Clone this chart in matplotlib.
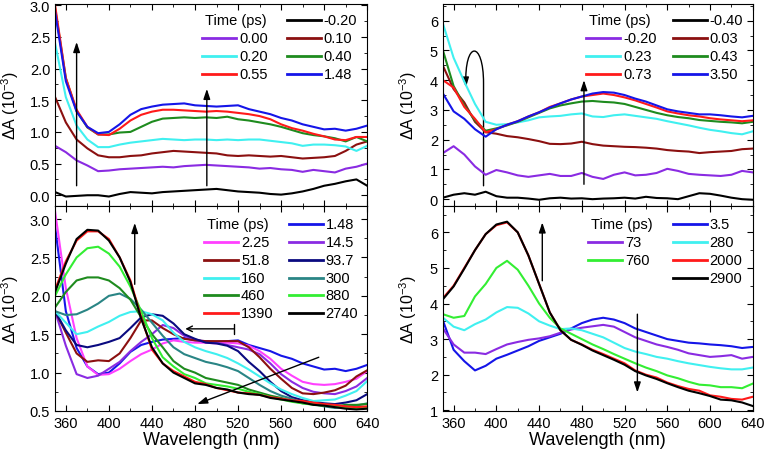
import matplotlib
matplotlib.use('Agg')
import matplotlib.pyplot as plt
from matplotlib.ticker import MultipleLocator
from matplotlib.patches import FancyArrowPatch
from matplotlib.path import Path
import numpy as np

plt.rcParams['font.family'] = ['Liberation Sans', 'DejaVu Sans']
plt.rcParams['mathtext.fontset'] = 'custom'
plt.rcParams['mathtext.rm'] = 'Liberation Sans'

# %% Data (10 nm grid)
wl = np.arange(350, 641, 10)

# top left: early times
tl_labels = ['-0.20', '0.00', '0.10', '0.20', '0.40', '0.55', '1.48']
tl_m020 = [0.05, -0.02, -0.01, 0.0, 0.0, -0.02, 0.02, 0.05, 0.04, 0.03, 0.05, 0.06, 0.07, 0.08, 0.09,
           0.1, 0.08, 0.06, 0.05, 0.04, 0.02, 0.01, 0.03, 0.06, 0.1, 0.15, 0.18, 0.22, 0.25, 0.15]
tl_000 = [0.78, 0.68, 0.55, 0.47, 0.38, 0.39, 0.41, 0.42, 0.43, 0.44, 0.45, 0.44, 0.46, 0.47, 0.48,
          0.47, 0.46, 0.45, 0.44, 0.42, 0.43, 0.41, 0.40, 0.37, 0.40, 0.38, 0.36, 0.42, 0.45, 0.5]
tl_010 = [1.55, 1.15, 0.88, 0.74, 0.63, 0.60, 0.60, 0.62, 0.63, 0.66, 0.68, 0.70, 0.69, 0.68, 0.67,
          0.66, 0.63, 0.62, 0.63, 0.62, 0.61, 0.62, 0.60, 0.58, 0.59, 0.60, 0.62, 0.70, 0.80, 0.85]
tl_020 = [2.4, 1.55, 1.1, 0.88, 0.76, 0.76, 0.80, 0.83, 0.85, 0.87, 0.89, 0.88, 0.87, 0.88, 0.88,
          0.87, 0.88, 0.87, 0.88, 0.88, 0.86, 0.84, 0.82, 0.78, 0.80, 0.80, 0.79, 0.77, 0.70, 0.78]
tl_040 = [2.95, 1.85, 1.33, 1.07, 0.96, 0.96, 0.99, 1.0, 1.08, 1.16, 1.21, 1.22, 1.23, 1.22, 1.23,
          1.22, 1.24, 1.2, 1.18, 1.15, 1.12, 1.08, 1.03, 0.98, 0.95, 0.93, 0.9, 0.85, 0.92, 0.85]
tl_055 = [3.0, 1.85, 1.35, 1.08, 0.96, 0.95, 1.05, 1.18, 1.27, 1.32, 1.35, 1.35, 1.34, 1.33, 1.32,
          1.33, 1.32, 1.3, 1.28, 1.25, 1.2, 1.12, 1.06, 1.02, 0.97, 0.93, 0.88, 0.87, 0.92, 0.92]
tl_148 = [2.9, 1.8, 1.32, 1.08, 0.98, 1.0, 1.12, 1.27, 1.36, 1.40, 1.43, 1.44, 1.45, 1.42, 1.41,
          1.4, 1.41, 1.42, 1.36, 1.32, 1.28, 1.22, 1.18, 1.12, 1.08, 1.04, 1.05, 1.02, 1.05, 1.1]

# bottom left: later times
bl_labels = ['1.48', '2.25', '14.5', '51.8', '93.7', '160', '300', '460', '880', '1390', '2740']
bl_225 = [3.1, 2.1, 1.45, 1.08, 0.97, 0.98, 1.05, 1.15, 1.24, 1.30, 1.38, 1.42, 1.40, 1.39, 1.39,
          1.38, 1.39, 1.38, 1.35, 1.28, 1.18, 1.05, 0.96, 0.88, 0.85, 0.84, 0.85, 0.88, 0.92, 1.02]
bl_145 = [1.8, 1.35, 0.98, 0.93, 0.96, 1.05, 1.14, 1.28, 1.40, 1.50, 1.62, 1.58, 1.48, 1.43, 1.40,
          1.39, 1.36, 1.33, 1.30, 1.24, 1.12, 0.98, 0.88, 0.80, 0.75, 0.73, 0.72, 0.76, 0.82, 0.93]
bl_518 = [1.8, 1.52, 1.25, 1.14, 1.16, 1.15, 1.25, 1.45, 1.68, 1.68, 1.58, 1.5, 1.44, 1.42, 1.41,
          1.41, 1.41, 1.41, 1.33, 1.2, 1.05, 0.92, 0.8, 0.73, 0.72, 0.74, 0.77, 0.83, 0.95, 1.03]
bl_937 = [1.8, 1.55, 1.36, 1.33, 1.36, 1.40, 1.45, 1.58, 1.72, 1.76, 1.74, 1.64, 1.50, 1.44, 1.39,
          1.38, 1.35, 1.28, 1.14, 1.02, 0.88, 0.76, 0.68, 0.64, 0.62, 0.60, 0.59, 0.61, 0.64, 0.72]
bl_160 = [1.8, 1.65, 1.5, 1.53, 1.6, 1.66, 1.74, 1.79, 1.80, 1.76, 1.68, 1.52, 1.40, 1.33, 1.28,
          1.24, 1.19, 1.12, 1.04, 0.95, 0.86, 0.78, 0.72, 0.67, 0.63, 0.64, 0.65, 0.7, 0.76, 0.89]
bl_300 = [1.8, 1.75, 1.76, 1.82, 1.9, 2.0, 2.03, 1.96, 1.82, 1.65, 1.48, 1.33, 1.24, 1.19, 1.14,
          1.11, 1.07, 1.02, 0.93, 0.84, 0.76, 0.7, 0.66, 0.61, 0.59, 0.56, 0.54, 0.55, 0.57, 0.6]
bl_460 = [1.85, 2.05, 2.2, 2.24, 2.24, 2.2, 2.1, 1.95, 1.72, 1.5, 1.33, 1.15, 1.05, 1.0, 0.93,
          0.9, 0.87, 0.84, 0.78, 0.74, 0.7, 0.67, 0.63, 0.6, 0.59, 0.57, 0.56, 0.58, 0.58, 0.59]
bl_880 = [2.0, 2.28, 2.5, 2.62, 2.64, 2.55, 2.38, 2.12, 1.8, 1.45, 1.2, 1.08, 0.98, 0.93, 0.86,
          0.84, 0.82, 0.79, 0.75, 0.72, 0.68, 0.65, 0.62, 0.6, 0.58, 0.57, 0.56, 0.54, 0.53, 0.54]
bl_1390 = [2.08, 2.45, 2.72, 2.84, 2.84, 2.74, 2.5, 2.2, 1.72, 1.3, 1.12, 1.02, 0.95, 0.88, 0.85,
           0.8, 0.77, 0.74, 0.73, 0.71, 0.68, 0.66, 0.64, 0.63, 0.61, 0.59, 0.58, 0.56, 0.55, 0.56]
bl_2740 = [2.05, 2.42, 2.74, 2.86, 2.85, 2.72, 2.5, 2.18, 1.7, 1.33, 1.12, 1.0, 0.93, 0.86, 0.84,
           0.8, 0.78, 0.74, 0.72, 0.71, 0.67, 0.65, 0.63, 0.61, 0.58, 0.57, 0.55, 0.53, 0.52, 0.53]

# top right: early times
tr_labels = ['-0.40', '-0.20', '0.03', '0.23', '0.43', '0.73', '3.50']
tr_m040 = [0.05, 0.15, 0.2, 0.15, 0.25, 0.1, 0.05, 0.05, 0.02, -0.02, 0.03, 0.05, 0.02, 0.03, 0.0,
           0.02, 0.03, 0.05, 0.02, 0.08, 0.04, 0.03, 0.0, 0.1, 0.2, 0.18, 0.12, 0.05, 0.0, -0.02]
tr_m020 = [1.55, 1.78, 1.5, 1.1, 0.82, 0.98, 0.9, 0.8, 0.75, 0.8, 0.85, 0.78, 0.78, 0.88, 0.75,
           0.68, 0.82, 0.9, 0.8, 0.82, 0.88, 1.02, 0.95, 0.85, 0.82, 0.8, 0.78, 0.82, 0.95, 0.9]
tr_003 = [4.48, 3.7, 3.25, 2.6, 2.25, 2.2, 2.12, 2.08, 2.02, 1.95, 1.86, 1.85, 1.87, 1.93, 1.85,
          1.8, 1.78, 1.76, 1.75, 1.73, 1.7, 1.65, 1.62, 1.6, 1.55, 1.58, 1.6, 1.62, 1.68, 1.7]
tr_023 = [5.9, 4.75, 3.95, 3.2, 2.6, 2.5, 2.52, 2.58, 2.65, 2.75, 2.78, 2.8, 2.85, 2.88, 2.78,
          2.76, 2.82, 2.85, 2.8, 2.75, 2.7, 2.62, 2.55, 2.48, 2.4, 2.33, 2.28, 2.22, 2.18, 2.28]
tr_043 = [5.0, 3.8, 3.15, 2.65, 2.3, 2.38, 2.48, 2.6, 2.75, 2.9, 3.05, 3.15, 3.22, 3.28, 3.3,
          3.27, 3.25, 3.2, 3.1, 3.0, 2.9, 2.82, 2.76, 2.72, 2.66, 2.63, 2.6, 2.58, 2.55, 2.6]
tr_073 = [4.0, 3.75, 3.1, 2.7, 2.25, 2.35, 2.5, 2.62, 2.78, 2.92, 3.1, 3.22, 3.35, 3.45, 3.5,
          3.55, 3.5, 3.42, 3.32, 3.2, 3.08, 2.95, 2.88, 2.82, 2.78, 2.72, 2.68, 2.65, 2.62, 2.65]
tr_350 = [3.55, 2.95, 2.7, 2.35, 2.1, 2.35, 2.5, 2.62, 2.78, 2.92, 3.08, 3.22, 3.35, 3.45, 3.55,
          3.6, 3.58, 3.5, 3.38, 3.28, 3.15, 3.02, 2.95, 2.9, 2.85, 2.85, 2.82, 2.78, 2.75, 2.8]

# bottom right: later times
br_labels = ['3.5', '73', '280', '760', '2000', '2900']
br_35 = [3.52, 2.7, 2.38, 2.12, 2.25, 2.45, 2.56, 2.68, 2.8, 2.95, 3.05, 3.15, 3.3, 3.45, 3.55,
         3.6, 3.55, 3.45, 3.3, 3.2, 3.1, 3.0, 2.95, 2.9, 2.88, 2.85, 2.83, 2.8, 2.75, 2.78]
br_73 = [3.3, 2.85, 2.62, 2.62, 2.58, 2.72, 2.85, 2.92, 2.98, 3.02, 3.08, 3.18, 3.27, 3.32, 3.36,
         3.4, 3.35, 3.2, 3.05, 2.95, 2.85, 2.78, 2.7, 2.6, 2.55, 2.5, 2.52, 2.55, 2.45, 2.5]
br_280 = [3.6, 3.35, 3.25, 3.42, 3.55, 3.75, 3.9, 3.88, 3.72, 3.5, 3.38, 3.28, 3.3, 3.25, 3.15,
          3.05, 2.9, 2.75, 2.65, 2.58, 2.5, 2.45, 2.38, 2.32, 2.27, 2.22, 2.18, 2.15, 2.15, 2.2]
br_760 = [3.7, 3.6, 3.65, 4.2, 4.55, 5.0, 5.2, 4.95, 4.5, 4.0, 3.6, 3.3, 3.15, 3.0, 2.85,
          2.72, 2.58, 2.45, 2.32, 2.2, 2.1, 1.98, 1.9, 1.8, 1.72, 1.7, 1.65, 1.65, 1.62, 1.75]
br_2000 = [4.15, 4.5, 5.0, 5.5, 5.95, 6.2, 6.28, 6.0, 5.35, 4.55, 3.75, 3.25, 2.98, 2.85, 2.7,
           2.58, 2.45, 2.32, 2.12, 2.0, 1.92, 1.78, 1.68, 1.6, 1.55, 1.42, 1.38, 1.32, 1.3, 1.38]
br_2900 = [4.12, 4.48, 4.98, 5.5, 5.95, 6.22, 6.3, 6.0, 5.35, 4.55, 3.75, 3.25, 2.98, 2.84, 2.68,
           2.55, 2.42, 2.28, 2.1, 1.98, 1.88, 1.76, 1.65, 1.55, 1.48, 1.4, 1.3, 1.28, 1.22, 1.12]

# %% Colours
purple = '#8A2BE2'
cyan = '#40F0F0'
red = '#FF1A1A'
brown = '#8B1010'
green = '#1E8B1E'
blue = '#1515E8'
magenta = '#FF40FF'
navy = '#0A0A80'
teal = '#2A8585'
lime = '#33EE33'

tl_series = [tl_m020, tl_000, tl_010, tl_020, tl_040, tl_055, tl_148]
tl_colors = ['k', purple, brown, cyan, green, red, blue]
bl_series = [tl_148, bl_225, bl_145, bl_518, bl_937, bl_160, bl_300, bl_460, bl_880, bl_1390, bl_2740]
bl_colors = [blue, magenta, purple, brown, navy, cyan, teal, green, lime, red, 'k']
tr_series = [tr_m040, tr_m020, tr_003, tr_023, tr_043, tr_073, tr_350]
tr_colors = ['k', purple, brown, cyan, green, red, blue]
br_series = [br_35, br_73, br_280, br_760, br_2000, br_2900]
br_colors = [blue, purple, cyan, lime, red, 'k']


def draw_legend(ax, col1, col2, x1, x2, y0, dy):
    # header + col1 entries on the left, col2 entries on the right
    ax.text(x1 + 0.01, y0, 'Time (ps)', transform=ax.transAxes, va='center', fontsize=10.5)
    for i, (lab, c) in enumerate(col1):
        y = y0 - (i + 1) * dy
        ax.plot([x1, x1 + 0.11], [y, y], transform=ax.transAxes, color=c, lw=2)
        ax.text(x1 + 0.12, y, lab, transform=ax.transAxes, va='center', fontsize=10.5)
    for i, (lab, c) in enumerate(col2):
        y = y0 - i * dy
        ax.plot([x2, x2 + 0.11], [y, y], transform=ax.transAxes, color=c, lw=2)
        ax.text(x2 + 0.117, y, lab, transform=ax.transAxes, va='center', fontsize=10.5)


def style(ax, ymajor, show_x):
    ax.set_xlim(350, 640)
    ax.xaxis.set_major_locator(MultipleLocator(40))
    ax.xaxis.set_minor_locator(MultipleLocator(20))
    ax.yaxis.set_major_locator(MultipleLocator(ymajor))
    ax.yaxis.set_minor_locator(MultipleLocator(ymajor / 2))
    ax.tick_params(which='both', direction='in', top=True, right=True, labelsize=10.5)
    ax.tick_params(which='major', length=4.5)
    ax.tick_params(which='minor', length=2.5)
    ax.tick_params(axis='x', labelbottom=show_x)
    ax.set_ylabel('ΔA (10$^{-3}$)', fontsize=11.5)
    if show_x:
        ax.set_xlabel('Wavelength (nm)', fontsize=13, labelpad=1)


# %% Figure
fig = plt.figure(figsize=(7.65, 4.52), dpi=100)
ax = [fig.add_axes([0.072, 0.542, 0.408, 0.447]),
      fig.add_axes([0.072, 0.0885, 0.408, 0.4535]),
      fig.add_axes([0.579, 0.542, 0.405, 0.447]),
      fig.add_axes([0.579, 0.0885, 0.405, 0.4535])]

arw = dict(arrowstyle='-|>,head_length=0.6,head_width=0.2', color='k', lw=1, shrinkA=0, shrinkB=0)

# top left
for s, c in zip(tl_series, tl_colors):
    ax[0].plot(wl, s, color=c, lw=1.5)
ax[0].set_ylim(-0.17, 3.02)
style(ax[0], 0.5, False)
ax[0].annotate('', xy=(370, 2.42), xytext=(370, 0.15), arrowprops=arw)
ax[0].annotate('', xy=(491, 1.68), xytext=(491, 0.15), arrowprops=arw)
draw_legend(ax[0], list(zip(tl_labels[1::2], tl_colors[1::2]))[:3],
            [(tl_labels[0], tl_colors[0]), (tl_labels[2], tl_colors[2]),
             (tl_labels[4], tl_colors[4]), (tl_labels[6], tl_colors[6])],
            0.47, 0.743, 0.922, 0.09)
ax[0].yaxis.set_label_coords(-0.11, 0.5)

# bottom left
for s, c in zip(bl_series, bl_colors):
    ax[1].plot(wl, s, color=c, lw=1.5)
ax[1].set_ylim(0.5, 3.17)
style(ax[1], 0.5, True)
ax[1].annotate('', xy=(424, 2.95), xytext=(424, 2.15), arrowprops=arw)
ax[1].annotate('', xy=(471, 1.57), xytext=(516, 1.57),
               arrowprops=dict(arrowstyle=']->,widthA=0.35,lengthA=0',
                               color='k', lw=1, shrinkA=0, shrinkB=0))
ax[1].annotate('', xy=(482, 0.59), xytext=(595, 1.2), arrowprops=arw)
draw_legend(ax[1], [(bl_labels[i], bl_colors[i]) for i in (1, 3, 5, 7, 9)],
            [(bl_labels[i], bl_colors[i]) for i in (0, 2, 4, 6, 8, 10)],
            0.476, 0.749, 0.912, 0.087)
ax[1].yaxis.set_label_coords(-0.11, 0.5)

# top right
for s, c in zip(tr_series, tr_colors):
    ax[2].plot(wl, s, color=c, lw=1.5)
ax[2].set_ylim(-0.23, 6.56)
style(ax[2], 1, False)
ax[2].annotate('', xy=(482, 4.0), xytext=(482, 0.5), arrowprops=arw)
# looped arrow: up from 388 nm, over the top and down to 372 nm
loop = Path([(388, 0.45), (388, 3.9), (388, 5.35), (370, 5.35), (371.5, 3.75)],
            [Path.MOVETO, Path.LINETO, Path.CURVE4, Path.CURVE4, Path.CURVE4])
ax[2].add_patch(FancyArrowPatch(path=loop, arrowstyle='-|>,head_length=0.6,head_width=0.2',
                                mutation_scale=10, color='k', lw=1, shrinkA=0, shrinkB=0))
draw_legend(ax[2], [(tr_labels[i], tr_colors[i]) for i in (1, 3, 5)],
            [(tr_labels[i], tr_colors[i]) for i in (0, 2, 4, 6)],
            0.462, 0.742, 0.922, 0.09)
ax[2].yaxis.set_label_coords(-0.077, 0.5)

# bottom right
for s, c in zip(br_series, br_colors):
    ax[3].plot(wl, s, color=c, lw=1.5)
ax[3].set_ylim(0.98, 6.74)
style(ax[3], 1, True)
ax[3].annotate('', xy=(443, 6.28), xytext=(443, 4.64), arrowprops=arw)
ax[3].annotate('', xy=(532, 1.5), xytext=(532, 3.7), arrowprops=arw)
draw_legend(ax[3], [(br_labels[i], br_colors[i]) for i in (1, 3)],
            [(br_labels[i], br_colors[i]) for i in (0, 2, 4, 5)],
            0.468, 0.742, 0.912, 0.088)
ax[3].yaxis.set_label_coords(-0.077, 0.5)

plt.savefig('out.png', dpi=100)
